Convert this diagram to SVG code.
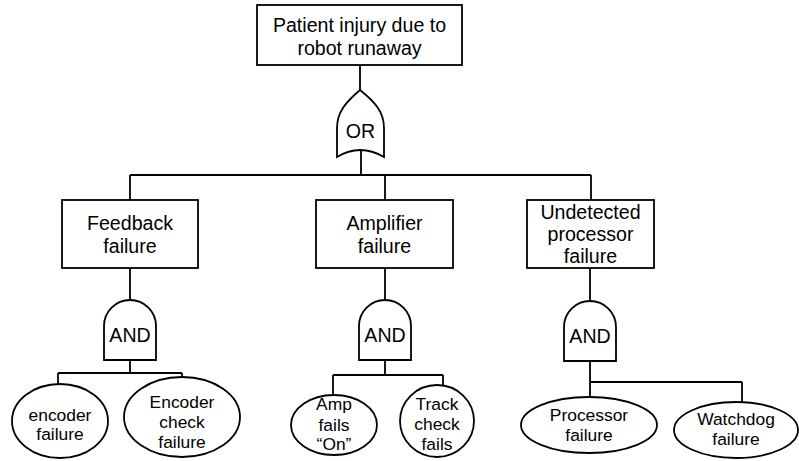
<svg xmlns="http://www.w3.org/2000/svg" width="799" height="461" viewBox="0 0 799 461">
<style>
.s{fill:#fff;stroke:#000;stroke-width:1.8}
.c{fill:none;stroke:#000;stroke-width:1.8}
.t{font-family:"Liberation Sans",Arial,sans-serif;font-size:19.6px;text-anchor:middle;fill:#000}
.e{font-family:"Liberation Sans",Arial,sans-serif;font-size:17.4px;text-anchor:middle;fill:#000}
</style>
<rect width="799" height="461" fill="#fff"/>
<g id="connectors">
<path class="c" d="M360,65 V90 M361,150 V175 M130,175 H591 M130,175 V200 M385,175 V200 M591,175 V200"/>
<path class="c" d="M130,268 V301 M385,268 V301 M590,268 V301"/>
<path class="c" d="M130,360 V373 M58,373 H182 M58,373 V384 M182,373 V377"/>
<path class="c" d="M385,360 V375 M333,375 H443 M333,375 V395 M443,375 V385"/>
<path class="c" d="M590,361 V397 M590,382 H742 M742,382 V402"/>
</g>
<g id="top">
<rect class="s" x="257" y="5" width="205" height="60"/>
<text class="t" x="359.5" y="32">Patient injury due to</text>
<text class="t" x="359.5" y="55">robot runaway</text>
</g>
<g id="or-gate">
<path class="s" d="M360,90 C346,102 337,112 337,128 L337,157 Q360,143 384,157 L384,128 C384,112 375,102 360,90 Z"/>
<text class="t" x="360.5" y="138">OR</text>
</g>
<g id="feedback">
<rect class="s" x="62" y="200" width="136" height="68"/>
<text class="t" x="130" y="230">Feedback</text>
<text class="t" x="130" y="253">failure</text>
</g>
<g id="amplifier">
<rect class="s" x="316" y="200" width="137" height="68"/>
<text class="t" x="384.5" y="230">Amplifier</text>
<text class="t" x="384.5" y="253">failure</text>
</g>
<g id="undetected">
<rect class="s" x="527" y="200" width="127" height="68"/>
<text class="t" x="590.5" y="219">Undetected</text>
<text class="t" x="590.5" y="241">processor</text>
<text class="t" x="590.5" y="263">failure</text>
</g>
<g id="and1">
<path class="s" d="M104,360 V326 A26,26 0 0 1 156,326 V360 Z"/>
<text class="t" x="130" y="342">AND</text>
</g>
<g id="and2">
<path class="s" d="M359,360 V326 A26,26 0 0 1 411,326 V360 Z"/>
<text class="t" x="385" y="342">AND</text>
</g>
<g id="and3">
<path class="s" d="M564,361 V327 A26,26 0 0 1 616,327 V361 Z"/>
<text class="t" x="590" y="343">AND</text>
</g>
<g id="encoder">
<ellipse class="s" cx="60" cy="421" rx="48" ry="37"/>
<text class="e" x="60" y="421">encoder</text>
<text class="e" x="60" y="440">failure</text>
</g>
<g id="encoder-check">
<ellipse class="s" cx="182" cy="417" rx="58" ry="40"/>
<text class="e" x="182" y="408">Encoder</text>
<text class="e" x="182" y="428">check</text>
<text class="e" x="182" y="448">failure</text>
</g>
<g id="amp-on">
<ellipse class="s" cx="334" cy="425" rx="43" ry="30"/>
<text class="e" x="334" y="410">Amp</text>
<text class="e" x="334" y="431">fails</text>
<text class="e" x="334" y="450">“On”</text>
</g>
<g id="track-check">
<ellipse class="s" cx="437" cy="421" rx="37" ry="36"/>
<text class="e" x="437" y="410">Track</text>
<text class="e" x="437" y="430">check</text>
<text class="e" x="437" y="450">fails</text>
</g>
<g id="processor">
<ellipse class="s" cx="589" cy="425" rx="68" ry="28"/>
<text class="e" x="589" y="421">Processor</text>
<text class="e" x="589" y="441">failure</text>
</g>
<g id="watchdog">
<ellipse class="s" cx="736" cy="430" rx="62" ry="28"/>
<text class="e" x="736" y="425">Watchdog</text>
<text class="e" x="736" y="445">failure</text>
</g>
</svg>
